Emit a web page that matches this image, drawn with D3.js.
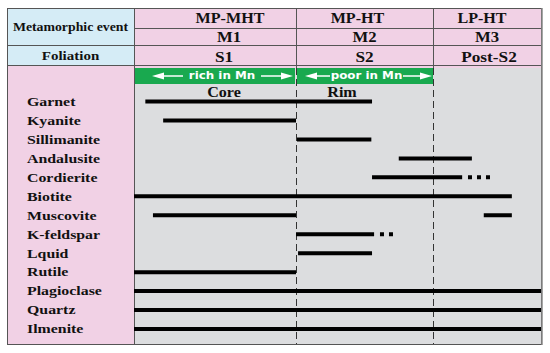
<!DOCTYPE html>
<html><head><meta charset="utf-8">
<script src="https://cdn.jsdelivr.net/npm/d3@7/dist/d3.min.js"></script>
<style>body{margin:0;background:#fff}svg{display:block}</style>
</head><body><svg id="c" width="550" height="353"></svg>
<script>
// ---- data ----
const stages = ["MP-MHT", "MP-HT", "LP-HT"];
const events = ["M1", "M2", "M3"];
const foliations = ["S1", "S2", "Post-S2"];
const minerals = ["Garnet","Kyanite","Sillimanite","Andalusite","Cordierite","Biotite","Muscovite","K-feldspar","Lquid","Rutile","Plagioclase","Quartz","Ilmenite"];
// stage units: 0 = start of M1, 1 = M1/M2 boundary, 2 = M2/M3 boundary, 3 = end
const solidMineral = ["Garnet","Kyanite","Sillimanite","Andalusite","Cordierite","Biotite","Muscovite","Muscovite","K-feldspar","Lquid","Rutile","Plagioclase","Quartz","Ilmenite"];
const solidFrom    = [0.07, 0.18, 1.007, 1.75, 1.555, 0, 0.117, 2.47, 1.0, 1.015, 0, 0, 0, 0];
const solidTo      = [1.555, 1.0, 1.55, 2.36, 2.27, 2.73, 1.0, 2.73, 1.57, 1.555, 1.0, 3, 3, 3];
const dottedMineral = ["Cordierite", "K-feldspar"];
const dottedFrom    = [2.324, 1.613];
const dottedTo      = [2.53, 1.708];
const zoneLabels = ["rich in Mn", "poor in Mn"];
const zoneTexts = ["Core", "Rim"];

// ---- layout ----
const svg = d3.select("#c");
const L = 7, R = 541, T = 8, B = 344, LC = 134;
const rowY = [8, 28, 45, 65];
const x = d3.scaleLinear().domain([0, 1, 2, 3]).range([LC, 296, 433, R]);
const y = d3.scalePoint().domain(minerals).range([101.5, 329]);
const pink = "#f1d1e5", blue = "#d5ecf6", gray = "#dcdddf", green = "#19a94f", lineC = "#555";
const serif = "'Liberation Serif','Times New Roman',serif";

// backgrounds
svg.append("rect").attr("x", L).attr("y", T).attr("width", LC - L).attr("height", rowY[3] - T).attr("fill", blue);
svg.append("rect").attr("x", L).attr("y", rowY[3]).attr("width", LC - L).attr("height", B - rowY[3]).attr("fill", pink);
svg.append("rect").attr("x", LC).attr("y", T).attr("width", R - LC).attr("height", rowY[3] - T).attr("fill", pink);
svg.append("rect").attr("x", LC).attr("y", rowY[3]).attr("width", R - LC).attr("height", 3).attr("fill", pink);
svg.append("rect").attr("x", LC).attr("y", 68).attr("width", R - LC).attr("height", B - 68).attr("fill", gray);

// green bands
[0, 1].forEach(i => {
  const x0 = x(i) + (i ? 1 : 0), x1 = x(i + 1) - (i ? 0 : 1);
  svg.append("rect").attr("x", x0).attr("y", 68).attr("width", x1 - x0).attr("height", 16).attr("fill", green);
});

// header grid lines
const g = svg.append("g").attr("stroke", lineC).attr("stroke-width", 1).attr("shape-rendering", "crispEdges");
g.append("line").attr("x1", LC).attr("x2", R).attr("y1", rowY[1] + 0.5).attr("y2", rowY[1] + 0.5);
g.append("line").attr("x1", L).attr("x2", R).attr("y1", rowY[2] + 0.5).attr("y2", rowY[2] + 0.5);
g.append("line").attr("x1", L).attr("x2", R).attr("y1", rowY[3] + 0.5).attr("y2", rowY[3] + 0.5);
g.append("line").attr("x1", LC + 0.5).attr("x2", LC + 0.5).attr("y1", T).attr("y2", B);
[1, 2].forEach(i => g.append("line").attr("x1", Math.round(x(i)) + 0.5).attr("x2", Math.round(x(i)) + 0.5).attr("y1", T).attr("y2", 68));
// dashed stage boundaries
[1, 2].forEach(i => svg.append("line").attr("x1", Math.round(x(i)) + 0.5).attr("x2", Math.round(x(i)) + 0.5)
  .attr("y1", 68).attr("y2", B).attr("stroke", "#333").attr("stroke-width", 1).attr("stroke-dasharray", "7,4"));

// header text
function txt(xp, yp, s, size, sx, anchor, fill, fam, weight) {
  return svg.append("text").attr("transform", `translate(${xp},${yp}) scale(${sx},1)`)
    .attr("text-anchor", anchor || "middle").attr("dominant-baseline", "central")
    .attr("font-family", fam || serif).attr("font-weight", weight || "bold")
    .attr("font-size", size).attr("fill", fill || "#111").text(s);
}
txt((L + LC) / 2, 27, "Metamorphic event", 11.5, 1.2);
txt((L + LC) / 2, 56, "Foliation", 12.5, 1.2);
const mid = i => (x(i) + x(i + 1)) / 2;
const off1 = [15, -7, -5], off2 = [14, 0, 0], off3 = [9, 0, 2];
stages.forEach((s, i) => txt(mid(i) + off1[i], 18, s, 14, 1.15));
events.forEach((s, i) => txt(mid(i) + off2[i], 37, s, 14.5, 1.15));
foliations.forEach((s, i) => txt(mid(i) + off3[i], 56.5, s, 15, 1.15));

// zone arrows and labels
const sansC = "'Comic Sans MS','DejaVu Sans',sans-serif";
const zoneGeom = [[152, 183, 261, 293], [305, 330, 403, 432]];
zoneLabels.forEach((s, i) => {
  const [a, b, c, d] = zoneGeom[i];
  const cy = 76;
  const wg = svg.append("g").attr("fill", "#fff").attr("stroke", "#fff");
  wg.append("line").attr("x1", a + 8).attr("x2", b).attr("y1", cy).attr("y2", cy).attr("stroke-width", 1.5);
  wg.append("line").attr("x1", c).attr("x2", d - 8).attr("y1", cy).attr("y2", cy).attr("stroke-width", 1.5);
  wg.append("path").attr("stroke", "none").attr("d", `M${a},${cy}L${a + 12},${cy - 3.5}L${a + 12},${cy + 3.5}Z`);
  wg.append("path").attr("stroke", "none").attr("d", `M${d},${cy}L${d - 12},${cy - 3.5}L${d - 12},${cy + 3.5}Z`);
  txt((b + c) / 2, cy - 0.5, s, 11, 1.08, "middle", "#fff", sansC, "bold");
});
txt(224, 92, zoneTexts[0], 14, 1.15);
txt(342, 92, zoneTexts[1], 14, 1.15);

// mineral labels
minerals.forEach(m => txt(27, y(m), m, 12.5, 1.27, "start"));

// bars
svg.append("g").selectAll("line").data(solidMineral).join("line")
  .attr("x1", (m, i) => x(solidFrom[i])).attr("x2", (m, i) => x(solidTo[i]))
  .attr("y1", m => y(m)).attr("y2", m => y(m))
  .attr("stroke", "#000").attr("stroke-width", 4);
svg.append("g").selectAll("line").data(dottedMineral).join("line")
  .attr("x1", (m, i) => x(dottedFrom[i])).attr("x2", (m, i) => x(dottedTo[i]))
  .attr("y1", m => y(m)).attr("y2", m => y(m))
  .attr("stroke", "#000").attr("stroke-width", 4).attr("stroke-dasharray", "4,5");

// outer border
svg.append("rect").attr("x", L + 0.5).attr("y", T + 0.5).attr("width", R - L).attr("height", B - T)
  .attr("fill", "none").attr("stroke", lineC).attr("stroke-width", 1);
svg.append("line").attr("x1", R + 1).attr("x2", R + 1).attr("y1", T).attr("y2", B + 1).attr("stroke", "#888").attr("stroke-width", 1.5);
</script></body></html>
